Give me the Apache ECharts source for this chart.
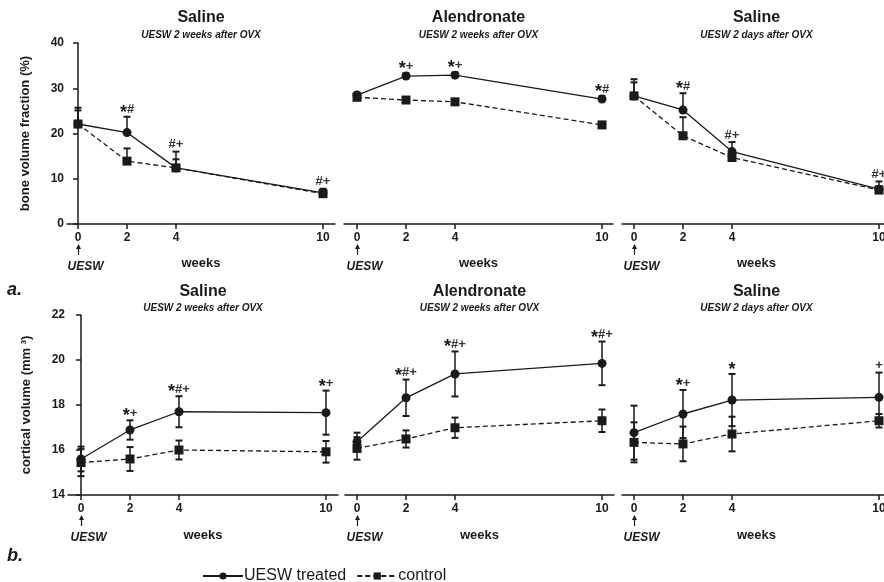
<!DOCTYPE html>
<html><head><meta charset="utf-8">
<script src="https://cdn.jsdelivr.net/npm/echarts@6/dist/echarts.min.js"></script>
<style>html,body{margin:0;padding:0;background:#fff}#c{width:884px;height:582px}</style>
</head><body><div id="c"></div>
<script>
// ---------- data ----------
const weeks = [0, 2, 4, 10];
const xTickLabels = ['0', '2', '4', '10'];
const legendNames = ['UESW treated', 'control'];
const panelTitles = ['Saline', 'Alendronate', 'Saline'];
const panelSubtitles = ['UESW 2 weeks after OVX', 'UESW 2 weeks after OVX', 'UESW 2 days after OVX'];
const rowLabels = ['a.', 'b.'];
const bvfTicks = [0, 10, 20, 30, 40];
const cvTicks = [14, 16, 18, 20, 22];

// bone volume fraction (%)
const bvfSalineW_treated = [22.1, 20.2, 12.4, 6.9];
const bvfSalineW_treatedErr = [3.6, 3.5, 3.6, 0.9];
const bvfSalineW_control = [22.1, 13.9, 12.4, 6.7];
const bvfSalineW_controlErr = [3.0, 2.8, 1.9, 0.6];
const bvfSalineW_marks = ['', '*#', '#+', '#+'];

const bvfAlen_treated = [28.5, 32.7, 32.9, 27.6];
const bvfAlen_treatedErr = [0.5, 0.6, 0.6, 0.7];
const bvfAlen_control = [28.0, 27.4, 27.0, 21.9];
const bvfAlen_controlErr = [0.4, 0.3, 0.3, 0.6];
const bvfAlen_marks = ['', '*+', '*+', '*#'];

const bvfSalineD_treated = [28.3, 25.2, 16.0, 7.7];
const bvfSalineD_treatedErr = [3.7, 3.7, 2.1, 1.7];
const bvfSalineD_control = [28.3, 19.5, 14.7, 7.5];
const bvfSalineD_controlErr = [3.0, 4.1, 1.5, 0.8];
const bvfSalineD_marks = ['', '*#', '#+', '#+'];

// cortical volume (mm3)
const cvSalineW_treated = [15.6, 16.89, 17.7, 17.66];
const cvSalineW_treatedErr = [0.55, 0.43, 0.69, 0.98];
const cvSalineW_control = [15.44, 15.6, 16.0, 15.92];
const cvSalineW_controlErr = [0.6, 0.53, 0.42, 0.48];
const cvSalineW_marks = ['', '*+', '*#+', '*+'];

const cvAlen_treated = [16.37, 18.32, 19.38, 19.85];
const cvAlen_treatedErr = [0.4, 0.81, 1.0, 0.97];
const cvAlen_control = [16.07, 16.49, 16.99, 17.3];
const cvAlen_controlErr = [0.5, 0.38, 0.45, 0.5];
const cvAlen_marks = ['', '*#+', '*#+', '*#+'];

const cvSalineD_treated = [16.77, 17.6, 18.22, 18.34];
const cvSalineD_treatedErr = [1.2, 1.07, 1.16, 1.1];
const cvSalineD_control = [16.34, 16.27, 16.71, 17.3];
const cvSalineD_controlErr = [0.89, 0.77, 0.77, 0.3];
const cvSalineD_marks = ['', '*+', '*', '+'];

// ---------- layout ----------
const FONT = '"Liberation Sans", Arial, Helvetica, sans-serif';
const INK = '#1a1a1a';
const PXW = 24.5;
const rows = [
  { top: 43, height: 181, ticks: bvfTicks, yName: 'bone volume fraction (%)', lefts: [67, 344, 622], x0s: [78, 357, 634], widths: [268, 269, 269], oneSided: true, titleY: 18, subY: 35, weeksGap: 33 },
  { top: 315, height: 180, ticks: cvTicks, yName: 'cortical volume (mm ³)', lefts: [68, 345, 622], x0s: [81, 357, 634], widths: [270, 269, 269], oneSided: false, titleY: 292, subY: 308, weeksGap: 34 }
];
const panels = [
  { row: 0, col: 0, t: bvfSalineW_treated, te: bvfSalineW_treatedErr, c: bvfSalineW_control, ce: bvfSalineW_controlErr, m: bvfSalineW_marks },
  { row: 0, col: 1, t: bvfAlen_treated, te: bvfAlen_treatedErr, c: bvfAlen_control, ce: bvfAlen_controlErr, m: bvfAlen_marks },
  { row: 0, col: 2, t: bvfSalineD_treated, te: bvfSalineD_treatedErr, c: bvfSalineD_control, ce: bvfSalineD_controlErr, m: bvfSalineD_marks },
  { row: 1, col: 0, t: cvSalineW_treated, te: cvSalineW_treatedErr, c: cvSalineW_control, ce: cvSalineW_controlErr, m: cvSalineW_marks },
  { row: 1, col: 1, t: cvAlen_treated, te: cvAlen_treatedErr, c: cvAlen_control, ce: cvAlen_controlErr, m: cvAlen_marks },
  { row: 1, col: 2, t: cvSalineD_treated, te: cvSalineD_treatedErr, c: cvSalineD_control, ce: cvSalineD_controlErr, m: cvSalineD_marks }
];

const grid = [], xAxis = [], yAxis = [], series = [];
panels.forEach((p, i) => {
  const r = rows[p.row];
  const left = r.lefts[p.col], x0 = r.x0s[p.col], w = r.widths[p.col];
  grid.push({ left: left, top: r.top, width: w, height: r.height, containLabel: false, outerBoundsMode: 'none' });
  xAxis.push({
    gridIndex: i, type: 'value',
    min: -(x0 - left) / PXW, max: (left + w - x0) / PXW,
    splitLine: { show: false },
    axisLine: { show: true, onZero: false, lineStyle: { color: INK, width: 1.5 } },
    axisTick: { show: true, customValues: weeks, length: 5, inside: false, lineStyle: { color: INK, width: 1.5 } },
    axisLabel: { customValues: weeks, formatter: v => xTickLabels[weeks.indexOf(v)] ?? '', color: INK, fontFamily: FONT, fontWeight: 'bold', fontSize: 12, margin: 8 },
    name: 'weeks', nameLocation: 'middle', nameGap: r.weeksGap,
    nameTextStyle: { color: INK, fontFamily: FONT, fontWeight: 'bold', fontSize: 13 }
  });
  const ticks = r.ticks;
  yAxis.push({
    gridIndex: i, type: 'value', show: p.col === 0,
    min: ticks[0], max: ticks[ticks.length - 1], interval: ticks[1] - ticks[0],
    splitLine: { show: false },
    axisLine: { show: true, lineStyle: { color: INK, width: 1.5 } },
    axisTick: { show: true, length: 5, lineStyle: { color: INK, width: 1.5 } },
    axisLabel: { color: INK, fontFamily: FONT, fontWeight: 'bold', fontSize: 12, margin: 3 },
    name: r.yName, nameLocation: 'middle', nameGap: 35, nameRotate: 90,
    nameTextStyle: { color: INK, fontFamily: FONT, fontWeight: 'bold', fontSize: 13 }
  });
  const mk = (vals) => weeks.map((wk, k) => [wk, vals[k]]);
  const errSeries = (vals, errs) => ({
    type: 'custom', xAxisIndex: i, yAxisIndex: i, z: 2, silent: true,
    data: weeks.map((wk, k) => [wk, vals[k], errs[k]]),
    encode: { x: 0, y: 1 },
    renderItem: (params, api) => {
      const xv = api.value(0), v = api.value(1), e = api.value(2);
      const top = api.coord([xv, v + e]);
      const bot = r.oneSided ? api.coord([xv, v]) : api.coord([xv, v - e]);
      const st = { stroke: INK, lineWidth: 1.5 };
      const cw = 3.5;
      const children = [
        { type: 'line', shape: { x1: top[0], y1: top[1], x2: bot[0], y2: bot[1] }, style: st },
        { type: 'line', shape: { x1: top[0] - cw, y1: top[1], x2: top[0] + cw, y2: top[1] }, style: { stroke: INK, lineWidth: 2 } }
      ];
      if (!r.oneSided) children.push({ type: 'line', shape: { x1: bot[0] - cw, y1: bot[1], x2: bot[0] + cw, y2: bot[1] }, style: { stroke: INK, lineWidth: 2 } });
      return { type: 'group', children };
    }
  });
  series.push(errSeries(p.c, p.ce));
  series.push(errSeries(p.t, p.te));
  series.push({
    name: legendNames[1], type: 'line', xAxisIndex: i, yAxisIndex: i, z: 3, data: mk(p.c),
    symbol: 'rect', symbolSize: 9, showSymbol: true, silent: true,
    itemStyle: { color: INK }, lineStyle: { color: INK, width: 1.3, type: [5, 3] }, animation: false
  });
  series.push({
    name: legendNames[0], type: 'line', xAxisIndex: i, yAxisIndex: i, z: 4, data: mk(p.t),
    symbol: 'circle', symbolSize: 9, showSymbol: true, silent: true,
    itemStyle: { color: INK }, lineStyle: { color: INK, width: 1.3 }, animation: false
  });
  const marks = p.m;
  series.push({
    type: 'custom', xAxisIndex: i, yAxisIndex: i, z: 5, silent: true,
    data: weeks.map((wk, k) => [wk, Math.max(p.t[k] + p.te[k], p.c[k] + p.ce[k])]),
    encode: { x: 0, y: 1 },
    renderItem: (params, api) => {
      const s = marks[params.dataIndex];
      if (!s) return null;
      const pt = api.coord([api.value(0), api.value(1)]);
      const txt = s.split('').map(ch => ch === '*' ? '{s|*}' : '{o|' + ch + '}').join('');
      return {
        type: 'text', x: pt[0], y: pt[1] - 7,
        style: {
          text: txt, textAlign: 'center', textVerticalAlign: 'middle', fill: INK,
          rich: {
            s: { fontSize: 18, fontWeight: 'bold', fontFamily: FONT, fill: INK, padding: [6, 0, 0, 0] },
            o: { fontSize: 13, fontWeight: 'bold', fontFamily: FONT, fill: '#333' }
          }
        }
      };
    }
  });
});

const option = {
  animation: false,
  backgroundColor: '#fff',
  grid, xAxis, yAxis, series,
  legend: {
    data: legendNames, left: 197, top: 563, itemWidth: 40, itemHeight: 9, itemGap: 10,
    textStyle: { fontFamily: FONT, fontSize: 16, color: INK, padding: [0, 0, 0, -4] },
    selectedMode: false
  },
  graphic: []
};
const chart = echarts.init(document.getElementById('c'));
chart.setOption(option);

// titles, UESW arrows, row labels
const g = [];
panels.forEach((p, i) => {
  const r = rows[p.row];
  const cx = r.lefts[p.col] + r.widths[p.col] / 2;
  g.push({ type: 'text', x: cx, y: r.titleY, style: { text: panelTitles[p.col], textAlign: 'center', textVerticalAlign: 'middle', font: 'bold 16px ' + FONT, fill: INK } });
  g.push({ type: 'text', x: cx, y: r.subY, style: { text: panelSubtitles[p.col], textAlign: 'center', textVerticalAlign: 'middle', font: 'italic bold 10px ' + FONT, fill: INK } });
  const base = chart.convertToPixel({ gridIndex: i }, [0, r.ticks[0]]);
  const ax = Math.round(base[0]) + 0.5, ay = base[1];
  g.push({ type: 'line', shape: { x1: ax, y1: ay + 22, x2: ax, y2: ay + 31 }, style: { stroke: INK, lineWidth: 1.2 } });
  g.push({ type: 'polygon', shape: { points: [[ax, ay + 20], [ax - 2.5, ay + 25], [ax + 2.5, ay + 25]] }, style: { fill: INK } });
  g.push({ type: 'text', x: ax - 11, y: ay + 43, style: { text: 'UESW', textAlign: 'left', textVerticalAlign: 'middle', font: 'italic bold 12px ' + FONT, fill: INK } });
});
g.push({ type: 'text', x: 7, y: 290, style: { text: rowLabels[0], textVerticalAlign: 'middle', font: 'italic bold 18px ' + FONT, fill: INK } });
g.push({ type: 'text', x: 7, y: 556, style: { text: rowLabels[1], textVerticalAlign: 'middle', font: 'italic bold 18px ' + FONT, fill: INK } });
chart.setOption({ graphic: g });
</script>
</body></html>
